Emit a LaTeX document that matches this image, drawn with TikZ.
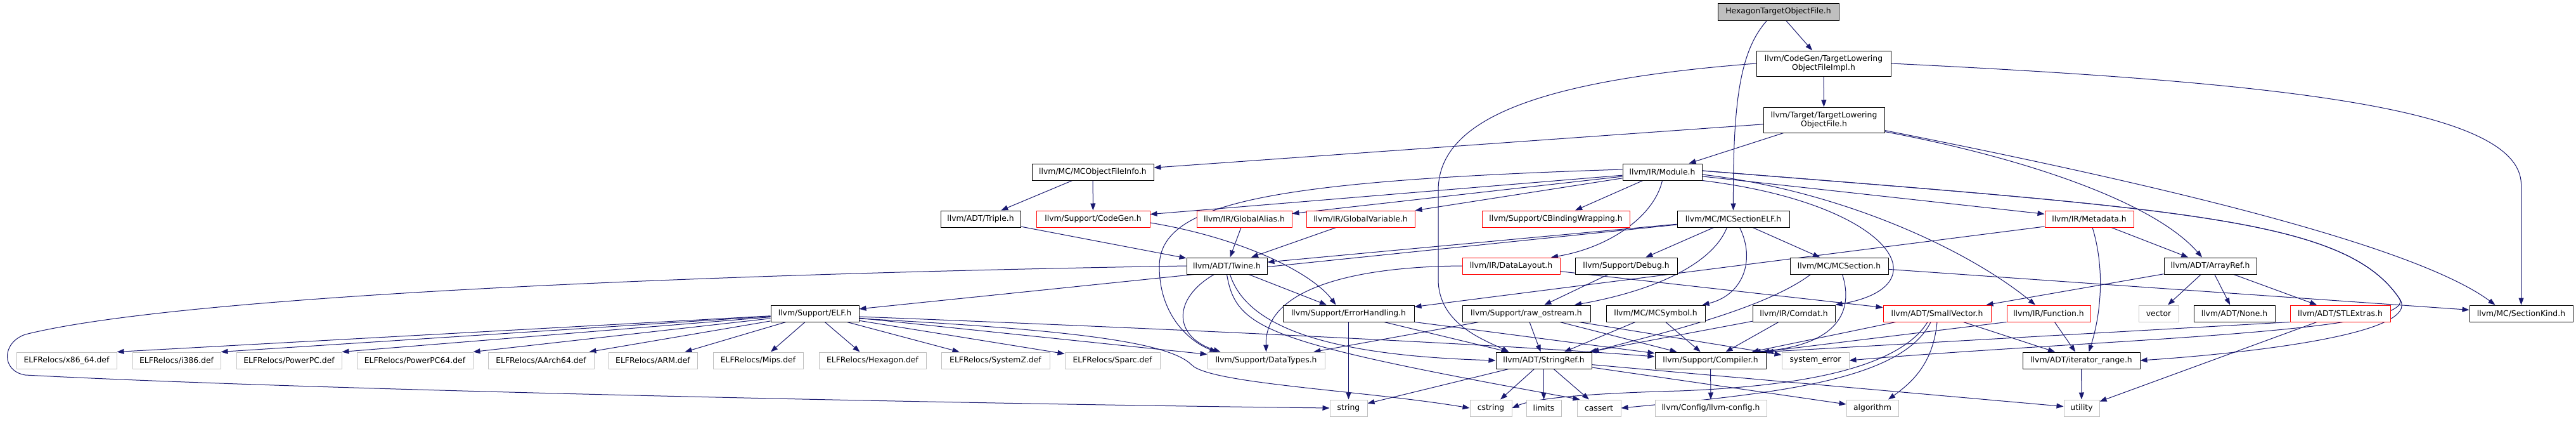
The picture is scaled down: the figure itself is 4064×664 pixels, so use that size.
\documentclass[tikz,border=0pt]{standalone}
\usepackage{fontspec}
\setmainfont{DejaVu Sans}
\usetikzlibrary{arrows.meta}
\definecolor{edgec}{HTML}{191970}
\definecolor{lgray}{HTML}{BFBFBF}
\definecolor{nred}{HTML}{FF0000}
\pgfdeclarelayer{bg}
\pgfdeclarelayer{edges}
\pgfsetlayers{bg,edges,main}
\newcommand\mknode[6]{\node[#1, minimum width=#5pt] (#2) at (#3,#4) {#6};}
\tikzset{
  nb/.style={draw=black, line width=1pt, fill=white, inner sep=0pt, minimum height=26pt, text=black, font=\fontsize{12.4}{14}\selectfont},
  nr/.style={nb, draw=nred},
  ng/.style={nb, draw=lgray},
  edg/.style={draw=edgec, line width=1pt, -{Triangle[length=11pt,width=8pt]}}
}
\begin{document}
\begin{tikzpicture}[x=1pt,y=-1pt]
\begin{pgfonlayer}{bg}
\fill[white] (0,0) rectangle (4064,664);
\end{pgfonlayer}
\useasboundingbox (0,0) rectangle (4064,664);
% row 1-3
\mknode{nb,fill=lgray,minimum height=27pt}{hex}{2805.5}{18.5}{191}{HexagonTargetObjectFile.h}
\mknode{nb,align=center,minimum height=40pt}{impl}{2877}{100}{212}{llvm/CodeGen/TargetLowering\\ObjectFileImpl.h}
\mknode{nb,align=center,minimum height=40pt}{tlof}{2877.5}{189}{191}{llvm/Target/TargetLowering\\ObjectFile.h}
% row 4
\mknode{nb}{mcofi}{1724}{271}{192}{llvm/MC/MCObjectFileInfo.h}
\mknode{nb}{module}{2622.5}{271}{125}{llvm/IR/Module.h}
% row 5
\mknode{nb}{triple}{1547}{345}{126}{llvm/ADT/Triple.h}
\mknode{nr}{codegen}{1724.5}{345}{179}{llvm/Support/CodeGen.h}
\mknode{nr}{galias}{1963}{345}{150}{llvm/IR/GlobalAlias.h}
\mknode{nr}{gvar}{2146.5}{345}{171}{llvm/IR/GlobalVariable.h}
\mknode{nr}{cbind}{2454.5}{345}{233}{llvm/Support/CBindingWrapping.h}
\mknode{nb}{mcself}{2734.5}{345}{177}{llvm/MC/MCSectionELF.h}
\mknode{nr}{metadata}{3296}{345}{140}{llvm/IR/Metadata.h}
% row 6
\mknode{nb}{twine}{1935.5}{419}{127}{llvm/ADT/Twine.h}
\mknode{nr}{datalayout}{2384}{419}{154}{llvm/IR/DataLayout.h}
\mknode{nb}{debug}{2565.5}{419}{161}{llvm/Support/Debug.h}
\mknode{nb}{mcsection}{2901.5}{419}{155}{llvm/MC/MCSection.h}
\mknode{nb}{arrayref}{3487}{419}{146}{llvm/ADT/ArrayRef.h}
% row 7
\mknode{nb}{elf}{1285.5}{494}{139}{llvm/Support/ELF.h}
\mknode{nb}{errh}{2127.5}{494}{207}{llvm/Support/ErrorHandling.h}
\mknode{nb}{rawos}{2408}{494}{202}{llvm/Support/raw\_ostream.h}
\mknode{nb}{mcsym}{2612}{494}{156}{llvm/MC/MCSymbol.h}
\mknode{nb}{comdat}{2830}{494}{130}{llvm/IR/Comdat.h}
\mknode{nr}{smallvec}{3056}{494}{170}{llvm/ADT/SmallVector.h}
\mknode{nr}{function}{3232}{494}{132}{llvm/IR/Function.h}
\mknode{ng}{vector}{3405.5}{494}{63}{vector}
\mknode{nb}{none}{3525}{494}{128}{llvm/ADT/None.h}
\mknode{nr}{stlextras}{3692}{494}{158}{llvm/ADT/STLExtras.h}
\mknode{nb}{sectionkind}{3977.5}{494}{163}{llvm/MC/SectionKind.h}
% row 8
\mknode{ng}{x86}{105}{568}{158}{ELFRelocs/x86\_64.def}
\mknode{ng}{i386}{278.5}{568}{139}{ELFRelocs/i386.def}
\mknode{ng}{ppc}{456}{568}{166}{ELFRelocs/PowerPC.def}
\mknode{ng}{ppc64}{654.5}{568}{183}{ELFRelocs/PowerPC64.def}
\mknode{ng}{aarch64}{853.5}{568}{167}{ELFRelocs/AArch64.def}
\mknode{ng}{arm}{1030}{568}{140}{ELFRelocs/ARM.def}
\mknode{ng}{mips}{1196}{568}{142}{ELFRelocs/Mips.def}
\mknode{ng}{hexdef}{1376.5}{568}{169}{ELFRelocs/Hexagon.def}
\mknode{ng}{systemz}{1570.5}{568}{171}{ELFRelocs/SystemZ.def}
\mknode{ng}{sparc}{1755}{568}{150}{ELFRelocs/Sparc.def}
\mknode{ng}{datatypes}{1997.5}{568}{185}{llvm/Support/DataTypes.h}
\mknode{nb}{stringref}{2435.5}{568}{151}{llvm/ADT/StringRef.h}
\mknode{nb}{compiler}{2698.5}{568}{175}{llvm/Support/Compiler.h}
\mknode{ng}{syserr}{2864}{568}{106}{system\_error}
\mknode{nb}{iterrange}{3283.5}{568}{185}{llvm/ADT/iterator\_range.h}
% row 9
\mknode{ng}{string}{2127.5}{643}{59}{string}
\mknode{ng}{cstring}{2352}{643}{66}{cstring}
\mknode{ng}{limits}{2435.5}{643}{55}{limits}
\mknode{ng}{cassert}{2522.5}{643}{69}{cassert}
\mknode{ng}{llvmconfig}{2699}{643}{176}{llvm/Config/llvm-config.h}
\mknode{ng}{algorithm}{2954}{643}{82}{algorithm}
\mknode{ng}{utility}{3284}{643}{56}{utility}

\begin{pgfonlayer}{edges}
% Hexagon root
\draw[edg] ([xshift=-18pt]hex.south) .. controls (2745,80) and (2734,160) .. (mcself.north);
\draw[edg] (hex) -- (impl);
% Impl
\draw[edg] (impl) -- (tlof);
\draw[edg] (impl.east) .. controls (3600,130) and (3975,170) .. (3977.5,290) -- (sectionkind.north);
\draw[edg] (impl.west) .. controls (2450,125) and (2269,180) .. (2269,300) -- (2269,440) .. controls (2269,510) and (2340,535) .. ([xshift=-55pt]stringref.north);
% TLOF
\draw[edg] (tlof) -- (mcofi);
\draw[edg] (tlof) -- (module);
\draw[edg] ([yshift=4pt]tlof.south east) .. controls (3350,280) and (3800,380) .. ([xshift=-41pt]sectionkind.north);
\draw[edg] ([yshift=2pt]tlof.south east) .. controls (3200,250) and (3400,320) .. ([xshift=-13pt]arrayref.north);
% MCObjectFileInfo
\draw[edg] (mcofi) -- (triple);
\draw[edg] (mcofi) -- (codegen);
\draw[edg] (triple) -- (twine);
\draw[edg] ([yshift=-6pt]codegen.east) .. controls (1960,375) and (2070,430) .. ([xshift=-20pt]errh.north);
\draw[edg] (galias) -- (twine);
\draw[edg] (gvar) -- (twine);
% Module
\draw[edg] (module) -- (codegen);
\draw[edg] (module) -- (galias);
\draw[edg] (module) -- (gvar);
\draw[edg] (module) -- (cbind);
\draw[edg] (module.south) .. controls (2610,340) and (2540,390) .. ([xshift=63pt]datalayout.north);
\draw[edg] ([yshift=4pt]module.west) .. controls (2000,285) and (1829,320) .. (1829,420) .. controls (1829,500) and (1880,540) .. ([xshift=-78pt]datatypes.north);
\draw[edg] (module.south east) .. controls (2980,320) and (3070,450) .. (comdat.north east);
\draw[edg] ([yshift=-4pt]module.east) .. controls (2900,300) and (3100,390) .. ([xshift=-21pt]function.north);
\draw[edg] (module) -- (metadata);
\draw[edg] ([yshift=2pt]module.east) .. controls (3450,330) and (3700,345) .. (3785,470) .. controls (3830,530) and (3500,560) .. (iterrange.east);
\draw[edg] ([yshift=2pt]module.east) .. controls (3450,330) and (3700,345) .. (3785,470) .. controls (3820,525) and (3300,535) .. (syserr.east);
% MCSectionELF
\draw[edg] (mcself) -- (twine);
\draw[edg] (mcself) -- (elf);
\draw[edg] (mcself) -- (debug);
\draw[edg] ([xshift=-10pt]mcself.south) .. controls (2700,420) and (2600,460) .. ([xshift=76pt]rawos.north);
\draw[edg] ([xshift=10pt]mcself.south) .. controls (2770,410) and (2750,465) .. ([xshift=-5pt]mcsym.north east);
\draw[edg] (mcself) -- (mcsection);
% DataLayout, Debug
\draw[edg] (datalayout.west) .. controls (2150,420) and (1995,450) .. (datatypes.north);
\draw[edg] (datalayout) -- (smallvec);
\draw[edg] (debug) -- (rawos);
% MCSection
\draw[edg] ([xshift=-45pt]mcsection.south) .. controls (2780,490) and (2600,530) .. (stringref.north east);
\draw[edg] ([xshift=5pt]mcsection.south) .. controls (2925,490) and (2900,545) .. ([xshift=-20pt]compiler.north east);
\draw[edg] (mcsection) -- (sectionkind);
% raw_ostream
\draw[edg] (rawos) -- (datatypes);
\draw[edg] (rawos) -- (stringref);
\draw[edg] (rawos) -- (compiler);
\draw[edg] (rawos) -- (syserr);
% MCSymbol, Comdat
\draw[edg] (mcsym) -- (stringref);
\draw[edg] (mcsym) -- (compiler);
\draw[edg] (comdat) -- (stringref);
\draw[edg] (comdat) -- (compiler);
% ErrorHandling
\draw[edg] (errh) -- (string);
\draw[edg] (errh) -- (stringref);
\draw[edg] (errh) -- (compiler);
% Twine
\draw[edg] ([xshift=-20pt]twine.south) .. controls (1850,470) and (1850,530) .. ([xshift=-72pt]datatypes.north);
\draw[edg] (twine) -- (errh);
\draw[edg] ([xshift=5pt]twine.south) .. controls (1965,510) and (2080,560) .. (stringref.west);
\draw[edg] (twine.south) .. controls (1950,520) and (2000,540) .. ([xshift=-30pt]cassert.north);
\draw[edg] (twine.west) .. controls (1200,430) and (300,462) .. (40,527) .. controls (2,540) and (2,585) .. (40,591) .. controls (500,615) and (1500,636) .. (string.west);
% StringRef
\draw[edg] (stringref) -- (string);
\draw[edg] (stringref) -- (cstring);
\draw[edg] (stringref) -- (limits);
\draw[edg] (stringref) -- (cassert);
\draw[edg] (stringref) -- (algorithm);
\draw[edg] (stringref) -- (utility);
\draw[edg] (compiler) -- (llvmconfig);
% SmallVector
\draw[edg] (smallvec) -- (compiler);
\draw[edg] ([xshift=-15pt]smallvec.south) .. controls (2990,590) and (2800,610) .. (2650,616) .. controls (2500,620) and (2420,628) .. (cstring.east);
\draw[edg] ([xshift=-10pt]smallvec.south) .. controls (3000,600) and (2800,620) .. (cassert.east);
\draw[edg] (smallvec.south) .. controls (3050,570) and (3020,600) .. ([xshift=25pt]algorithm.north);
\draw[edg] (smallvec) -- (iterrange);
% Function
\draw[edg] (function) -- (iterrange);
\draw[edg] (function.south west) -- ([xshift=-6pt]compiler.north east);
% Metadata
\draw[edg] (metadata) -- (arrayref);
\draw[edg] ([xshift=5pt]metadata.south) .. controls (3320,420) and (3316,490) .. ([xshift=12pt]iterrange.north);
\draw[edg] ([yshift=-12pt]metadata.west) -- ([yshift=-3pt]errh.north east);
% ArrayRef
\draw[edg] (arrayref) -- (vector);
\draw[edg] (arrayref) -- (none);
\draw[edg] (arrayref) -- (stlextras);
\draw[edg] (arrayref) -- (smallvec);
% STLExtras, iterator_range
\draw[edg] (stlextras) -- (utility);
\draw[edg] (stlextras.south west) -- (compiler.north east);
\draw[edg] (iterrange) -- (utility);
% ELF.h
\draw[edg] (elf) -- (x86.north east);
\draw[edg] (elf) -- (i386.north east);
\draw[edg] (elf) -- (ppc.north east);
\draw[edg] (elf) -- (ppc64.north east);
\draw[edg] (elf) -- ([xshift=-8pt]aarch64.north east);
\draw[edg] (elf) -- ([xshift=-20pt]arm.north east);
\draw[edg] (elf) -- ([xshift=20pt]mips.north);
\draw[edg] (elf) -- ([xshift=-20pt]hexdef.north);
\draw[edg] (elf) -- ([xshift=29pt]systemz.north west);
\draw[edg] (elf) -- ([yshift=-3pt]sparc.north west);
\draw[edg] (elf) -- (datatypes);
\draw[edg] ([yshift=-5pt]elf.east) .. controls (1900,520) and (2400,545) .. ([yshift=6pt]compiler.west);
\draw[edg] ([yshift=-8pt]elf.east) .. controls (1700,520) and (1845,540) .. (1880,575) .. controls (1910,605) and (2150,615) .. (cstring.west);
\end{pgfonlayer}
\end{tikzpicture}
\end{document}
